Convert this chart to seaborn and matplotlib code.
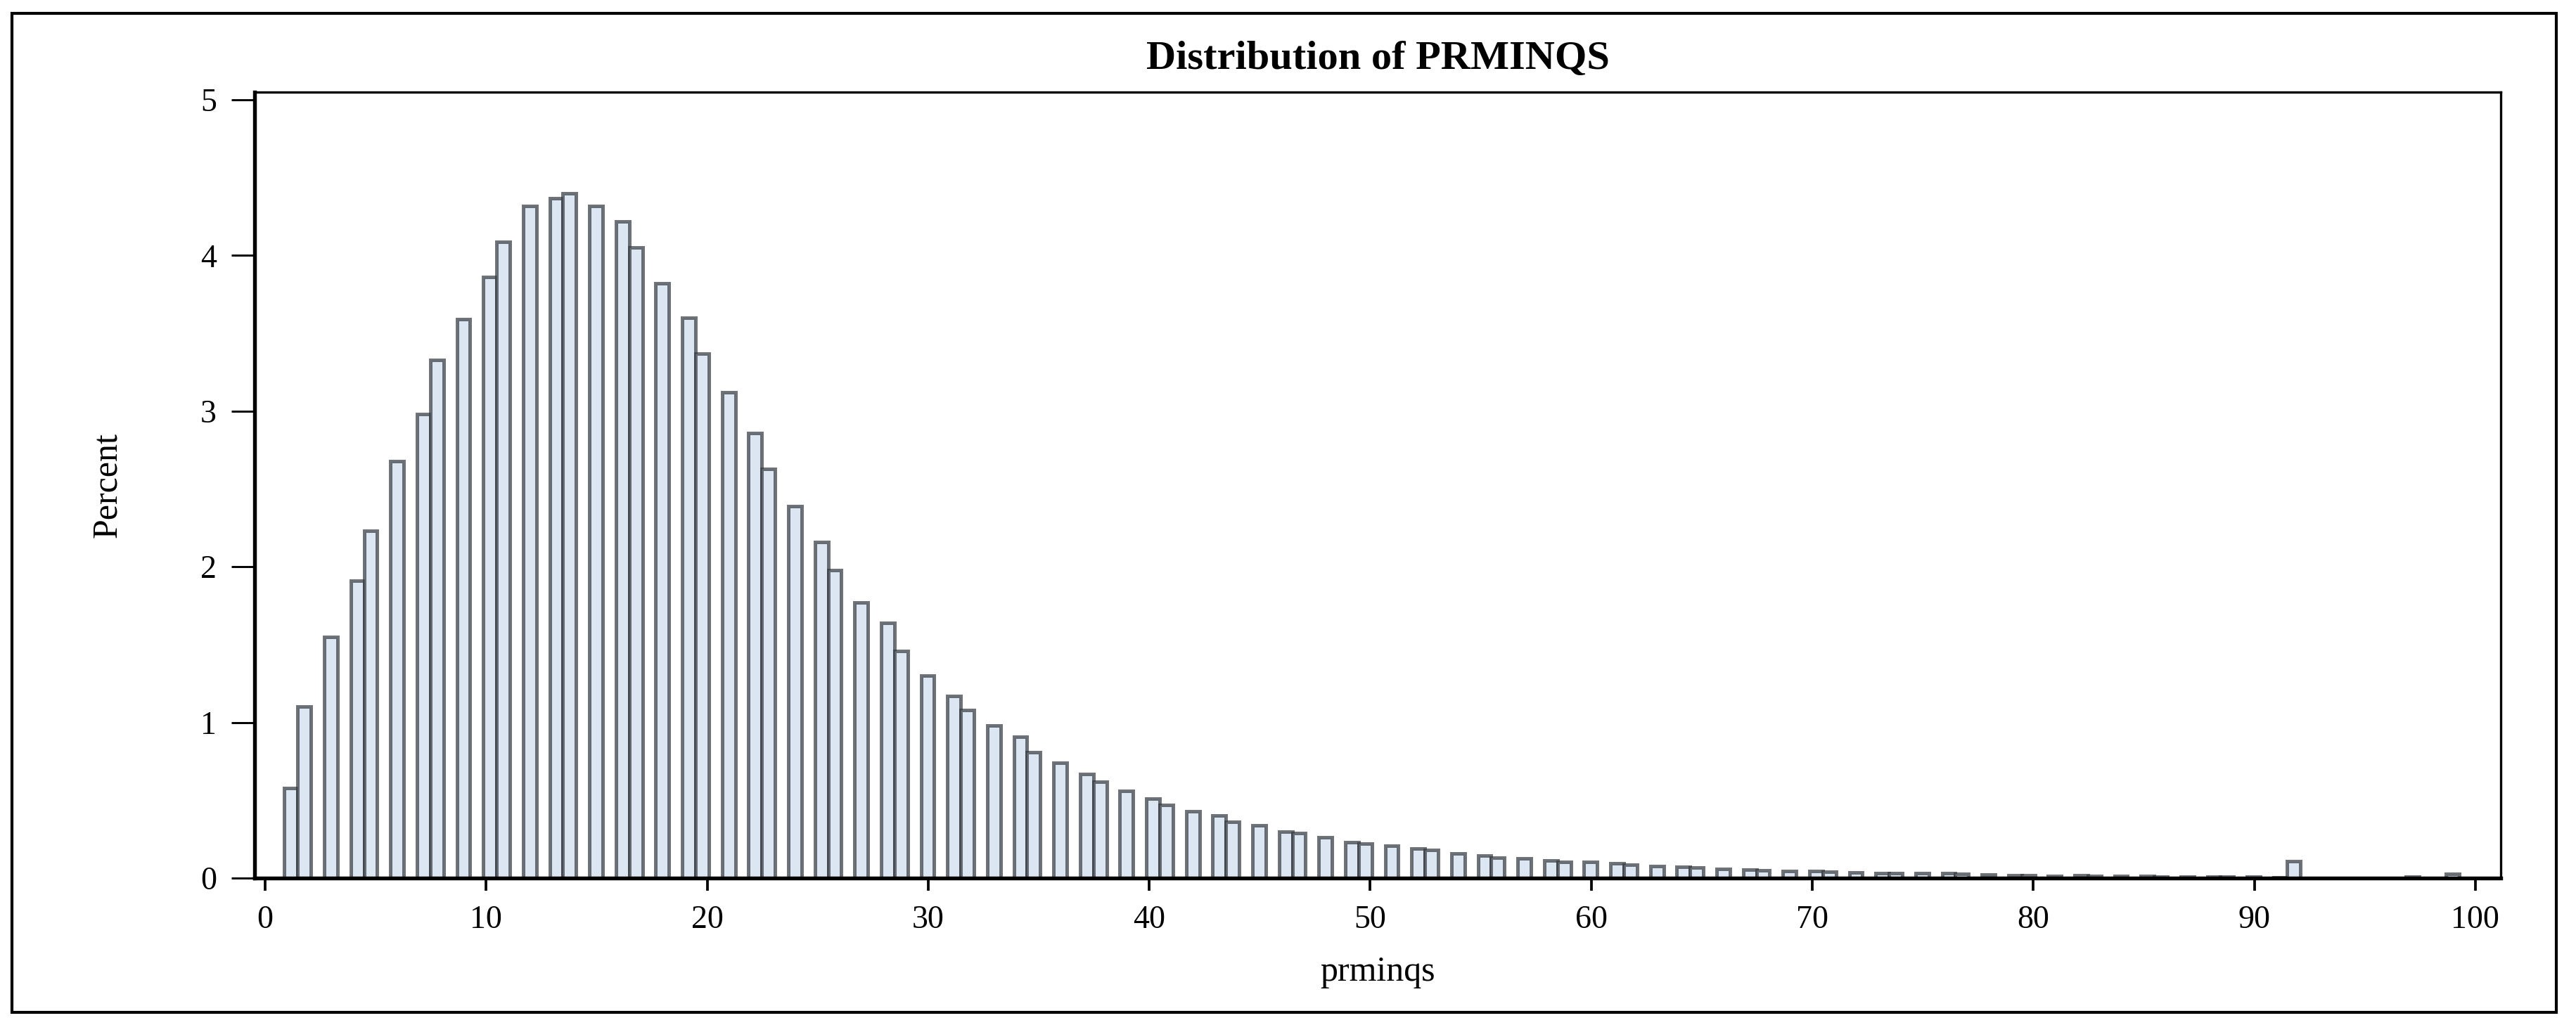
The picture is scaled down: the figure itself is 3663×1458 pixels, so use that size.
import numpy as np
import pandas as pd
import matplotlib
matplotlib.use("Agg")
import matplotlib.pyplot as plt
from matplotlib.patches import Rectangle
import seaborn as sns

# values of prminqs and the percent of observations at each value
values = list(range(1, 100))
percent = [
    0.58, 1.10, 1.55, 1.91, 2.23, 2.68, 2.98, 3.33, 3.59, 3.86,
    4.09, 4.32, 4.37, 4.40, 4.32, 4.22, 4.05, 3.82, 3.60, 3.37,
    3.12, 2.86, 2.63, 2.39, 2.16, 1.98, 1.77, 1.64, 1.46, 1.30,
    1.17, 1.08, 0.98, 0.91, 0.81, 0.74, 0.67, 0.62, 0.56, 0.51,
    0.47, 0.43, 0.40, 0.36, 0.34, 0.30, 0.29, 0.26, 0.23, 0.22,
    0.21, 0.19, 0.18, 0.16, 0.145, 0.13, 0.125, 0.115, 0.105, 0.105,
    0.095, 0.085, 0.078, 0.074, 0.066, 0.058, 0.053, 0.048, 0.045, 0.045,
    0.041, 0.036, 0.032, 0.032, 0.032, 0.032, 0.025, 0.021, 0.019, 0.017,
    0.015, 0.016, 0.012, 0.012, 0.012, 0.011, 0.008, 0.008, 0.008, 0.008,
    0.006, 0.11, 0.0, 0.0, 0.0, 0.0, 0.008, 0.0, 0.029,
]
x_ticks = [0, 10, 20, 30, 40, 50, 60, 70, 80, 90, 100]
y_ticks = [0, 1, 2, 3, 4, 5]

df = pd.DataFrame({"prminqs": values, "percent": percent})

sns.set_theme(style="white", rc={
    "text.color": "black",
    "axes.labelcolor": "black",
    "xtick.color": "black",
    "ytick.color": "black",
})
plt.rcParams["font.family"] = ["Liberation Serif", "DejaVu Serif"]

W, H = 3663, 1458
fig = plt.figure(figsize=(W / 300, H / 300), dpi=300, facecolor="white")
ax = fig.add_axes([362 / W, 1 - 1249 / H, (3556 - 362) / W, (1249 - 131) / H])

sns.histplot(
    data=df, x="prminqs", weights="percent",
    binwidth=0.6, binrange=(0.87, 99.27),
    ax=ax,
)
for p in ax.patches:
    p.set_alpha(None)
    p.set_facecolor("#dce6f2")
    p.set_edgecolor((0.2, 0.22, 0.24, 0.7))
    p.set_linewidth(1.2)

ax.set_xlim(-0.48, 101.15)
ax.set_ylim(0, 5.05)
ax.set_xticks(x_ticks)
ax.set_yticks(y_ticks)
ax.tick_params(axis="x", length=4.3, width=0.9, direction="out", pad=5,
               labelsize=11, color="black", bottom=True)
ax.tick_params(axis="y", length=8, width=0.7, direction="out", pad=5,
               labelsize=11, color="black", left=True)
for side in ["left", "bottom"]:
    ax.spines[side].set_linewidth(1.3)
    ax.spines[side].set_color("black")
for side in ["top", "right"]:
    ax.spines[side].set_linewidth(0.8)
    ax.spines[side].set_color("black")

ax.set_xlabel("prminqs", fontsize=12, labelpad=7)
ax.set_ylabel("Percent", fontsize=12, labelpad=26)
ax.set_title("Distribution of PRMINQS", fontsize=14, weight="bold", pad=8)
ax.grid(False)

# outer frame round the whole graph
fig.patches.append(Rectangle((17 / W, 1 - 1440 / H), (3635 - 17) / W, (1440 - 19) / H,
                             transform=fig.transFigure, fill=False,
                             edgecolor="black", linewidth=1.0))

fig.savefig("out.png", dpi=300, facecolor="white")
